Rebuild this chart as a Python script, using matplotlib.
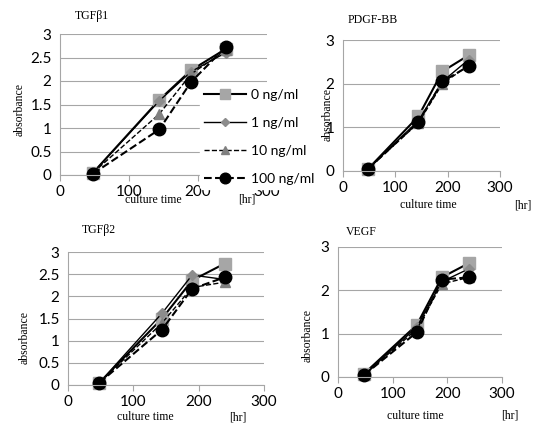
import numpy as np
import matplotlib.pyplot as plt

# culture time [hr]
hours = [48, 144, 190, 240]
doses = ["0 ng/ml", "1 ng/ml", "10 ng/ml", "100 ng/ml"]

tgfb1 = [[0.05, 1.60, 2.23, 2.68],
         [0.05, 1.58, 2.20, 2.60],
         [0.05, 1.30, 2.15, 2.65],
         [0.03, 0.97, 1.98, 2.72]]
pdgf = [[0.05, 1.25, 2.28, 2.65],
        [0.05, 1.15, 2.05, 2.55],
        [0.05, 1.10, 2.00, 2.42],
        [0.05, 1.12, 2.05, 2.40]]
tgfb2 = [[0.05, 1.50, 2.36, 2.74],
         [0.05, 1.62, 2.48, 2.38],
         [0.05, 1.40, 2.20, 2.32],
         [0.05, 1.25, 2.17, 2.43]]
vegf = [[0.08, 1.20, 2.30, 2.63],
        [0.05, 1.15, 2.20, 2.50],
        [0.05, 1.10, 2.15, 2.30],
        [0.05, 1.03, 2.25, 2.30]]

styles = [
    dict(color="black", lw=1.5, ls="-", marker="s", ms=8, mfc="#a6a6a6", mec="#a6a6a6"),
    dict(color="black", lw=1.0, ls="-", marker="D", ms=5, mfc="#8c8c8c", mec="#8c8c8c"),
    dict(color="black", lw=1.0, ls="--", marker="^", ms=7, mfc="#808080", mec="#808080"),
    dict(color="black", lw=1.5, ls="--", marker="o", ms=9, mfc="black", mec="black"),
]

W, H = 534, 425
fig = plt.figure(figsize=(W / 100, H / 100), dpi=100)
fig.patch.set_facecolor("white")

serif = "Liberation Serif"
sans = "Lato"


def px(x, y):
    return x / W, 1 - y / H


panels = [
    # data, title, (left, right, top, bottom), yticks, title pos, ylabel pos, xlabel y, xlabel x, hr x
    (tgfb1, "TGFβ1", (60, 267, 34, 175), np.arange(0, 3.01, 0.5), (92, 16), (20, 110), 200, 153, 247),
    (pdgf, "PDGF-BB", (343, 500, 40, 171), [0, 1, 2, 3], (373, 20), (328, 115), 205, 428, 523),
    (tgfb2, "TGFβ2", (68, 264, 252, 385), np.arange(0, 3.01, 0.5), (99, 230), (25, 337), 417, 145, 238),
    (vegf, "VEGF", (338, 502, 247, 377), [0, 1, 2, 3], (361, 232), (308, 336), 416, 415, 510),
]

axes = []
for data, title, (l, r, t, b), yt, tpos, ypos, xly, xlx, hrx in panels:
    ax = fig.add_axes([l / W, 1 - b / H, (r - l) / W, (b - t) / H])
    ax.set_xlim(0, 300)
    ax.set_ylim(0, 3)
    ax.set_xticks([0, 100, 200, 300])
    ax.set_yticks(yt)
    ax.set_yticklabels([("%g" % v) for v in yt])
    ax.grid(axis="y", color="#a6a6a6", lw=0.8)
    ax.set_axisbelow(True)
    for s in ["top", "right"]:
        ax.spines[s].set_visible(False)
    ax.spines["left"].set_color("#a6a6a6")
    ax.spines["bottom"].set_color("#a6a6a6")
    ax.tick_params(axis="y", length=0, pad=6, labelsize=11)
    ax.tick_params(axis="x", length=4, color="#a6a6a6", pad=3, labelsize=11)
    for lab in ax.get_xticklabels() + ax.get_yticklabels():
        lab.set_fontfamily(sans)
    for vals, st in zip(data, styles):
        ax.plot(hours, vals, clip_on=False, **st)
    axes.append(ax)
    fig.text(*px(*tpos), title, family=serif, fontsize=8.5, ha="center", va="center")
    fig.text(*px(*ypos), "absorbance", family=serif, fontsize=8.5, rotation=90,
             ha="center", va="center")
    fig.text(*px(xlx, xly), "culture time", family=serif, fontsize=8.5, ha="center", va="center")
    fig.text(*px(hrx, xly), "[hr]", family=serif, fontsize=8.5, ha="center", va="center")

# legend belongs to the first panel so the second panel draws over it
leg = axes[0].legend(doses, loc="upper left", bbox_to_anchor=px(200, 85),
                     bbox_transform=fig.transFigure,
                     frameon=True, facecolor="white", edgecolor="white", framealpha=1,
                     handlelength=3.0, labelspacing=1.15, borderaxespad=0,
                     borderpad=0.3, handletextpad=0.4, markerscale=0.85,
                     prop={"family": sans, "size": 10})

fig.savefig("out.png", dpi=100)
